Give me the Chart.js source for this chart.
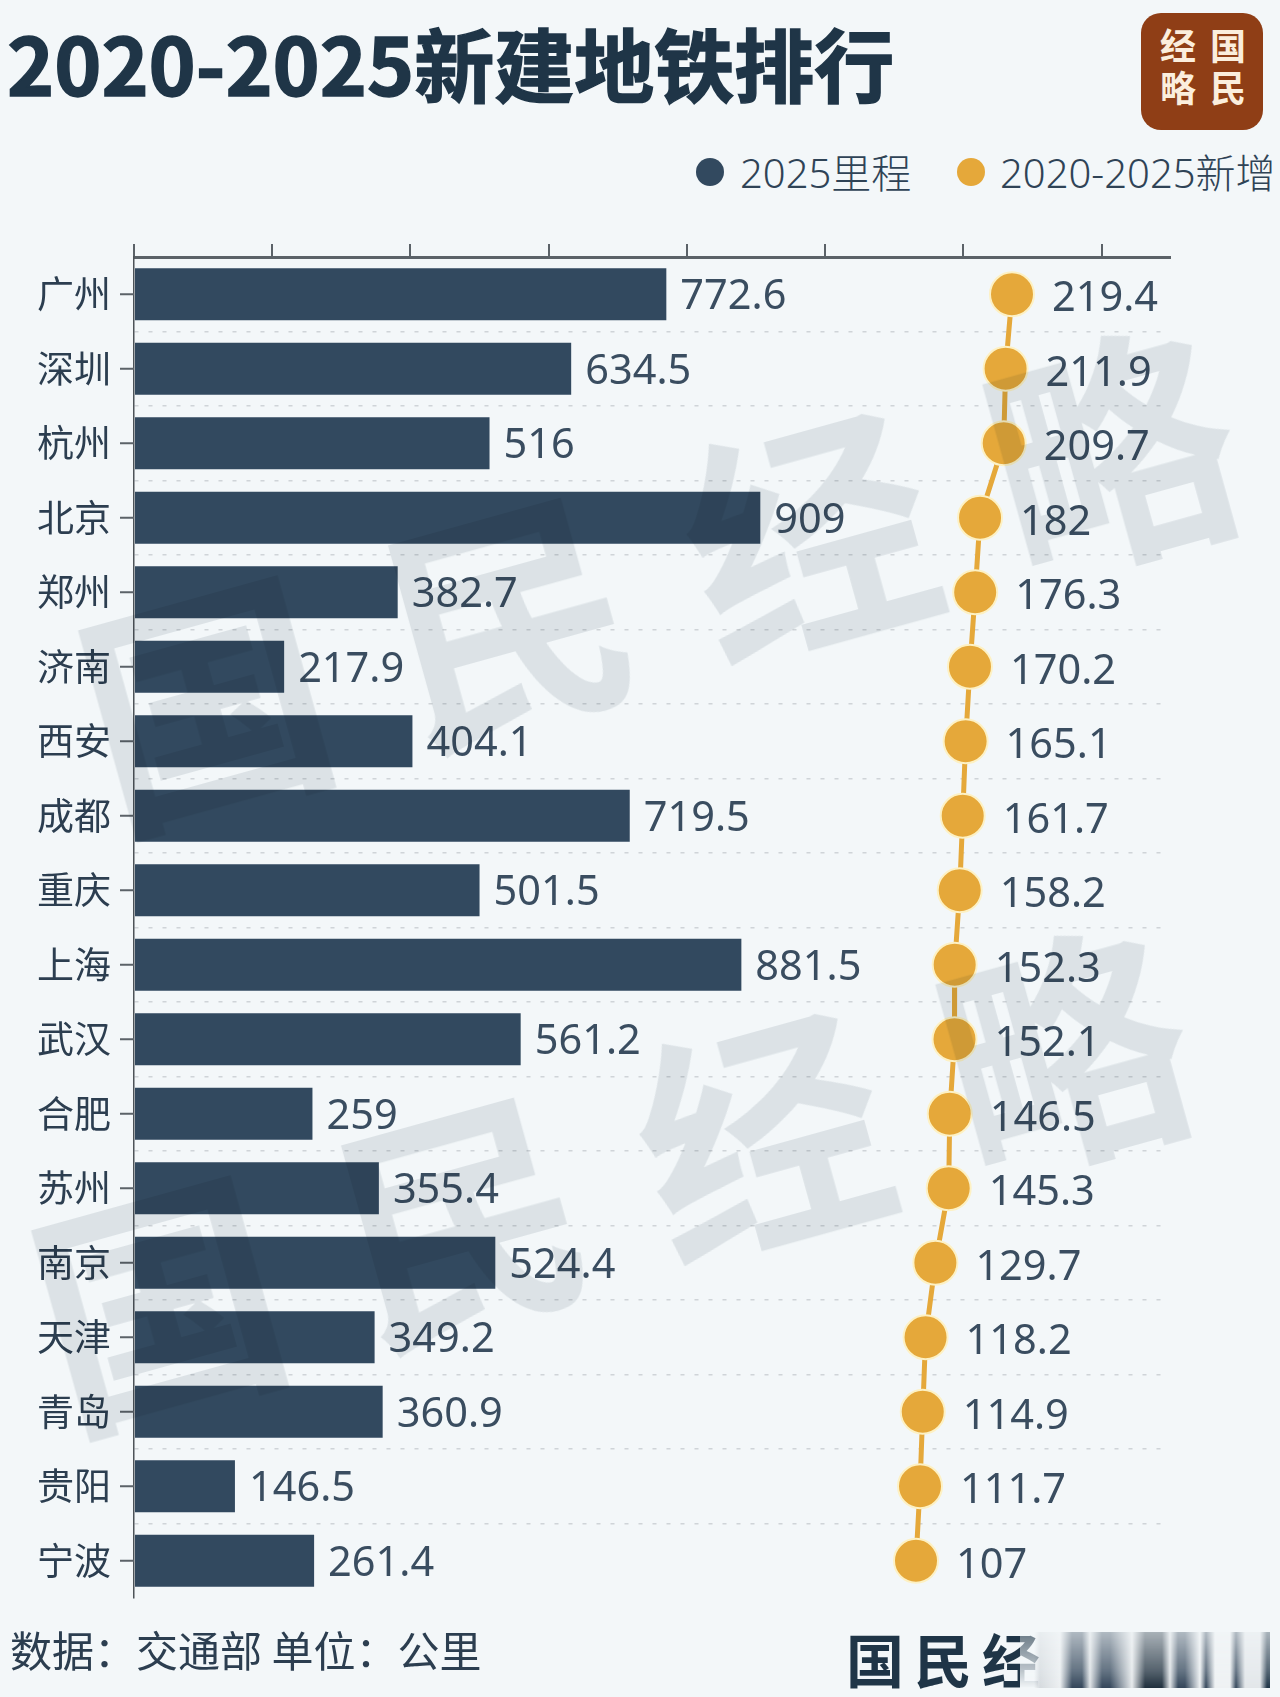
<!DOCTYPE html>
<html lang="zh">
<head>
<meta charset="utf-8">
<title>2020-2025新建地铁排行</title>
<script src="https://cdn.jsdelivr.net/npm/chart.js@4/dist/chart.umd.min.js"></script>
<style>
    html, body { margin: 0; padding: 0; background: #f3f7f9; }
    body { position: relative; width: 1280px; height: 1697px; overflow: hidden; font-family: "Noto Sans", "Noto Sans CJK SC", sans-serif; color: #33475a; }
    canvas { position: absolute; left: 0; top: 0; }
    #title { position: absolute; left: 7px; top: 6px; font-family: "Noto Sans CJK SC", sans-serif; font-size: 80px; line-height: 110px; font-weight: 700; color: #1f3547; white-space: nowrap; -webkit-text-stroke: 1.5px #1f3547; }
    #logo { position: absolute; left: 1141px; top: 13px; width: 122px; height: 117px; background: #8f3e16; border-radius: 20px; }
    #logo span { position: absolute; width: 40px; text-align: center; font-family: "Noto Sans CJK SC", sans-serif; font-size: 36px; line-height: 40px; color: #fbeedd; font-weight: 700; }
    #legend { position: absolute; top: 143px; left: 0; width: 1280px; height: 60px; }
    #legend i { position: absolute; top: 15px; width: 28px; height: 28px; border-radius: 50%; }
    #legend span { position: absolute; top: 0; font-size: 40px; font-weight: 300; line-height: 60px; white-space: nowrap; color: #2f4356; }
    #footer { position: absolute; left: 10px; top: 1619px; font-family: "Noto Sans CJK SC", sans-serif; font-size: 42px; line-height: 60px; white-space: pre; color: #2c3e50; }
    #brand { position: absolute; left: 846px; top: 1618px; font-family: "Noto Sans CJK SC", sans-serif; font-size: 58px; line-height: 80px; letter-spacing: 10px; font-weight: 700; color: #1f3547; white-space: nowrap; }
    #smear { position: absolute; left: 1020px; top: 1632px; width: 250px; height: 56px;
        background: linear-gradient(90deg, #f3f7f9 0 14px, #d5dade 20px, #eceff1 40px, #33465a 52px, #33465a 62px, #dfe3e6 70px, #33465a 82px, #33465a 90px, #e6e9eb 112px, #1f2f3d 125px, #1f2f3d 142px, #dfe3e6 150px, #33465a 158px, #33465a 165px, #eef1f3 180px, #33465a 186px, #eef1f3 195px, #eef1f3 210px, #33465a 216px, #e2e6e9 225px, #e2e6e9 240px, #1f3547 247px);
        -webkit-mask-image: linear-gradient(180deg, rgba(0,0,0,.35), rgba(0,0,0,.75) 70%, #000); }
    .watermark { position: absolute; font-family: "Noto Sans CJK SC", sans-serif; font-size: 245px; line-height: 300px; font-weight: 700; letter-spacing: 68px; color: #e7eaec; white-space: nowrap; mix-blend-mode: multiply; transform: rotate(-15.5deg); transform-origin: 0 50%; pointer-events: none; }
</style>
</head>
<body>
<div id="title"></div>
<div id="logo"></div>
<div id="legend"></div>
<canvas id="chart" width="1280" height="1697"></canvas>
<div id="footer"></div>
<div id="brand"></div>
<div id="smear"></div>
<div class="watermark" style="left:85px; top:575px;">国民经略</div>
<div class="watermark" style="left:38px; top:1175px;">国民经略</div>

<script>
const TITLE = '2020-2025新建地铁排行';
const FOOTER = '数据：交通部 单位：公里';
const BRAND = '国民经';
const LOGO_CHARS = ['经', '国', '略', '民'];
const SERIES_NAMES = ['2025里程', '2020-2025新增'];
const BAR_COLOR = '#32495f';
const DOT_COLOR = '#e5a83a';

const cities = ['广州', '深圳', '杭州', '北京', '郑州', '济南', '西安', '成都', '重庆', '上海', '武汉', '合肥', '苏州', '南京', '天津', '青岛', '贵阳', '宁波'];
const total2025 = [772.6, 634.5, 516, 909, 382.7, 217.9, 404.1, 719.5, 501.5, 881.5, 561.2, 259, 355.4, 524.4, 349.2, 360.9, 146.5, 261.4];
const added = [219.4, 211.9, 209.7, 182, 176.3, 170.2, 165.1, 161.7, 158.2, 152.3, 152.1, 146.5, 145.3, 129.7, 118.2, 114.9, 111.7, 107];

document.getElementById('title').innerText = TITLE;
document.getElementById('footer').innerText = FOOTER;
document.getElementById('brand').innerText = BRAND;

// logo, two columns of two characters
const logoPos = [[17, 11], [67, 11], [17, 53], [67, 53]];
LOGO_CHARS.forEach((c, i) => {
    const s = document.createElement('span');
    s.innerText = c;
    s.style.left = logoPos[i][0] + 'px';
    s.style.top = logoPos[i][1] + 'px';
    document.getElementById('logo').appendChild(s);
});

// legend
const legendPos = [[696, 740], [957, 1000]];
SERIES_NAMES.forEach((name, i) => {
    const dot = document.createElement('i');
    dot.style.left = legendPos[i][0] + 'px';
    dot.style.background = i === 0 ? BAR_COLOR : DOT_COLOR;
    const label = document.createElement('span');
    label.style.left = legendPos[i][1] + 'px';
    label.innerText = name;
    document.getElementById('legend').append(dot, label);
});

// value labels and the short category tick marks
const labelsPlugin = {
    id: 'valueLabels',
    afterDatasetsDraw(chart) {
        const ctx = chart.ctx;
        ctx.save();
        ctx.font = '400 41.5px "Noto Sans", "Noto Sans CJK SC"';
        ctx.fillStyle = '#3a4d60';
        ctx.textBaseline = 'middle';
        ctx.textAlign = 'left';
        chart.getDatasetMeta(1).data.forEach((el, i) => {
            ctx.fillText(String(total2025[i]), el.x + 14, el.y + 3);
        });
        chart.getDatasetMeta(0).data.forEach((el, i) => {
            ctx.fillText(String(added[i]), el.x + 40, el.y + 5);
        });
        const yScale = chart.scales.y;
        ctx.strokeStyle = '#5b6268';
        ctx.lineWidth = 2;
        cities.forEach((c, i) => {
            const y = yScale.getPixelForValue(i);
            ctx.beginPath();
            ctx.moveTo(yScale.right - 14, y);
            ctx.lineTo(yScale.right, y);
            ctx.stroke();
        });
        ctx.restore();
    }
};

new Chart(document.getElementById('chart'), {
    type: 'bar',
    plugins: [labelsPlugin],
    data: {
        labels: cities,
        datasets: [
            {
                label: SERIES_NAMES[1],
                type: 'line',
                data: added,
                xAxisID: 'x2',
                yAxisID: 'y',
                order: 1,
                borderColor: DOT_COLOR,
                borderWidth: 5,
                tension: 0,
                pointRadius: 22,
                pointBorderWidth: 2,
                pointBackgroundColor: DOT_COLOR,
                pointBorderColor: '#fdf1c4'
            },
            {
                label: SERIES_NAMES[0],
                data: total2025,
                xAxisID: 'x',
                yAxisID: 'y',
                order: 2,
                backgroundColor: BAR_COLOR,
                barPercentage: 0.7,
                categoryPercentage: 1
            }
        ]
    },
    options: {
        indexAxis: 'y',
        responsive: false,
        animation: false,
        devicePixelRatio: 1,
        layout: { padding: { top: 244, bottom: 99, left: 0, right: 110 } },
        plugins: { legend: { display: false }, tooltip: { enabled: false } },
        scales: {
            x: {
                position: 'top',
                min: 0,
                max: 1503.6,
                ticks: { display: false, stepSize: 200.6, includeBounds: false },
                grid: { drawOnChartArea: false, color: '#5b6268', lineWidth: 2, tickLength: 13 },
                border: { color: '#5b6268', width: 3 }
            },
            x2: {
                display: false,
                min: -808.6,
                max: 404.4
            },
            y: {
                afterFit: scale => { scale.width = 134; },
                ticks: { color: '#2c3e50', font: { size: 37, family: '"Noto Sans CJK SC"' }, padding: 23 },
                grid: {
                    offset: true,
                    drawTicks: false,
                    lineWidth: 1.5,
                    color: c => (c.index === 0 || c.index === undefined) ? 'transparent' : '#cfd4d8'
                },
                border: { color: '#4d5358', width: 1.5, dash: [4, 10] }
            }
        }
    }
});
</script>
</body>
</html>
